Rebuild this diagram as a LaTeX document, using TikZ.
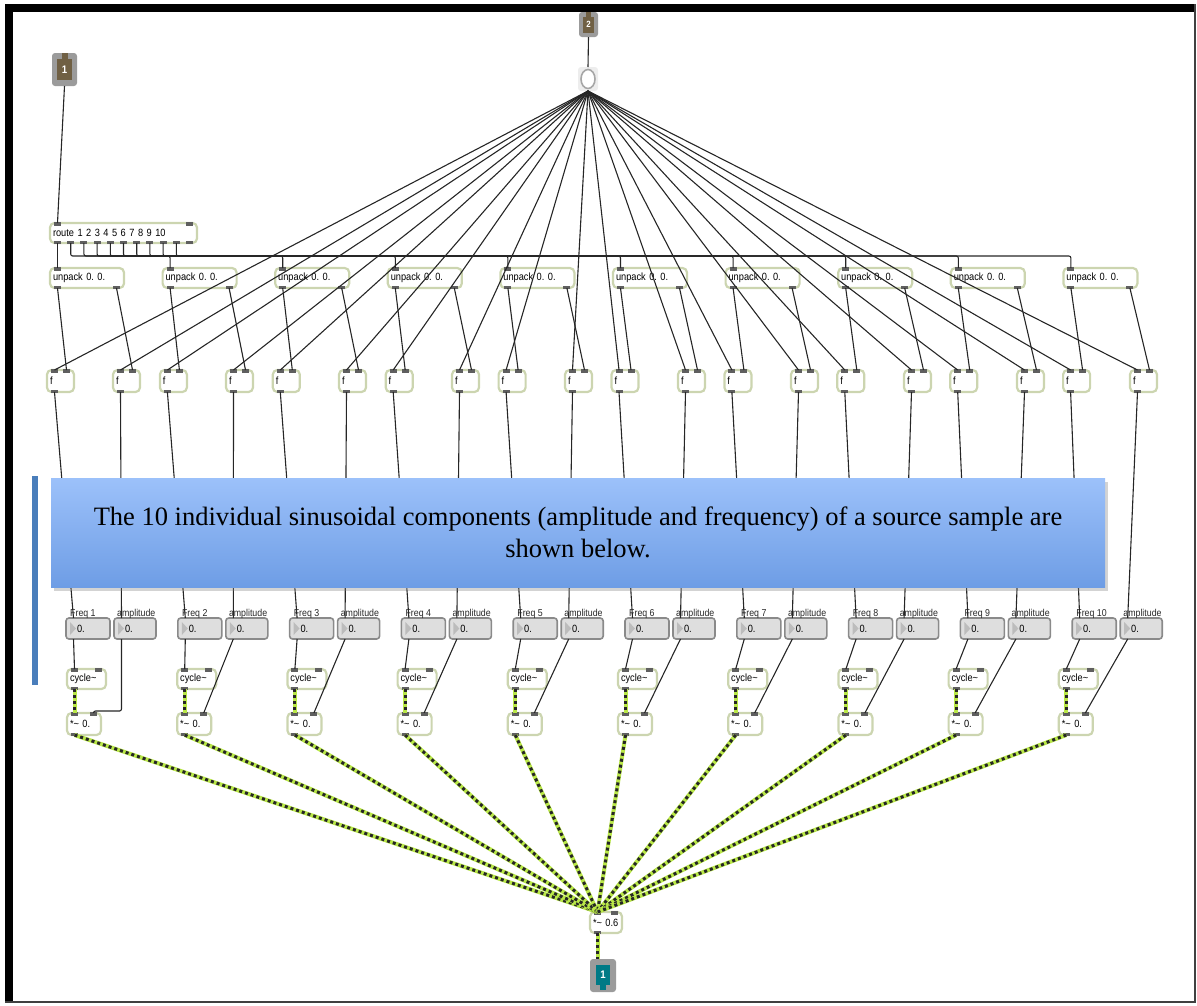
\documentclass[tikz,border=0pt]{standalone}
\usepackage{fontspec}
\newfontfamily\maxfont[FakeStretch=0.88]{Liberation Sans}
\newfontfamily\bannerfont{Liberation Serif}
\usetikzlibrary{calc}
\usetikzlibrary{shadows}

\definecolor{objgreen}{RGB}{204,213,176}
\definecolor{portgray}{RGB}{95,95,95}
\definecolor{numfill}{RGB}{222,222,222}
\definecolor{numline}{RGB}{138,138,138}
\definecolor{trigray}{RGB}{188,188,188}
\definecolor{iogray}{RGB}{155,155,155}
\definecolor{inbrown}{RGB}{112,96,68}
\definecolor{outteal}{RGB}{0,122,134}
\definecolor{siggreen}{RGB}{186,232,72}
\definecolor{bantop}{RGB}{156,193,250}
\definecolor{banbot}{RGB}{110,157,229}
\definecolor{barblue}{RGB}{74,126,187}
\definecolor{cordgray}{RGB}{38,38,38}

\tikzset{
  maxobj/.style={draw=objgreen, line width=2.2pt, fill=white, rounded corners=4.5pt,
    anchor=north west, inner xsep=3pt, inner ysep=0pt, outer sep=0pt,
    minimum height=20pt, align=left, font=\maxfont\fontsize{10.5}{11}\selectfont},
  numbox/.style={draw=numline, line width=1.6pt, fill=numfill, rounded corners=3pt,
    anchor=north west, inner xsep=3pt, inner ysep=0pt, outer sep=0pt,
    minimum height=21pt, align=left, font=\maxfont\fontsize{10.5}{11}\selectfont},
  numlabel/.style={anchor=base west, inner sep=0pt, text=black!85,
    font=\maxfont\fontsize{10}{11}\selectfont},
  iobox/.style={fill=iogray, rounded corners=3pt, anchor=north west, inner sep=0pt, outer sep=0pt},
  iocore/.style={inner sep=0pt, outer sep=0pt, text=white, font=\maxfont\bfseries\fontsize{11}{11}\selectfont},
  bangbox/.style={fill=black!7, rounded corners=3pt, anchor=north west, inner sep=0pt,
    outer sep=0pt, minimum width=20pt, minimum height=24pt},
  cord/.style={draw=cordgray, line width=1.1pt},
  sigcord/.style={draw=siggreen, line width=4pt,
    postaction={draw=black!85, line width=3pt, dash pattern=on 3pt off 3pt}},
  banner/.style={top color=bantop, bottom color=banbot, minimum width=1054pt,
    minimum height=109pt, inner sep=0pt, align=center,
    font=\bannerfont\fontsize{26.5}{32}\selectfont,
    drop shadow={shadow xshift=3pt, shadow yshift=-4pt, opacity=0.35}}
}

% inlets and outlets of a box: node, width, #inlets, #outlets
\newcommand\maxports[5][portgray]{%
  \foreach \k in {1,...,#4}{
    \path ([xshift={7.5+(\k-1)*(#3-15)/max(#4-1,1)}]#2.north west) coordinate (#2-i\k);
    \fill[#1] ([xshift=-3.5pt,yshift=1pt]#2-i\k) rectangle ++(7,3.5);
  }
  \foreach \k in {1,...,#5}{
    \path ([xshift={7.5+(\k-1)*(#3-15)/max(#5-1,1)}]#2.south west) coordinate (#2-o\k);
    \fill[#1] ([xshift=-3.5pt,yshift=-1pt]#2-o\k) rectangle ++(7,-3.5);
  }
}

\frenchspacing
\begin{document}
\begin{tikzpicture}[x=1pt,y=-1pt]
\useasboundingbox (0,0) rectangle (1197,1005);

%================ FRAME ==================
\fill[black] (5,4) rectangle (1196,12);
\fill[black] (5,4) rectangle (13,1003);
\fill[black!75] (1194,4) rectangle (1196,1003);
\fill[black!75] (5,1001) rectangle (1196,1003);

%================ INLETS / OUTLET ==================
\node[iobox, minimum width=25pt, minimum height=33pt] (in1) at (52,53) {};
\node[iocore, fill=inbrown, minimum width=15pt, minimum height=21pt] (in1core) at (in1.center) {1};
\fill[inbrown] ([xshift=-3pt]in1core.north) rectangle ([xshift=3pt]in1.north);

\node[iobox, minimum width=19pt, minimum height=25pt] (in2) at (579,12) {};
\node[iocore, fill=inbrown, minimum width=11pt, minimum height=16pt,
  font=\maxfont\bfseries\fontsize{9}{9}\selectfont] (in2core) at (in2.center) {2};
\fill[inbrown] ([xshift=-2.5pt]in2core.north) rectangle ([xshift=2.5pt]in2.north);

\node[bangbox] (bang) at (578,67) {};
\draw[draw=black!35, line width=1.6pt, fill=white] (bang.center) ellipse (7pt and 9.5pt);

\node[iobox, minimum width=26pt, minimum height=33pt] (out1) at (590,959) {};
\node[iocore, fill=outteal, minimum width=14pt, minimum height=20pt] (out1core) at ([yshift=1pt]out1.center) {1};
\fill[outteal] ([xshift=-3pt]out1core.south) rectangle ([xshift=3pt,yshift=2pt]out1.south);

%================ OBJECTS ==================
\node[maxobj, text width=141pt] (route) at (50,223) {route 1 2 3 4 5 6 7 8 9 10};
\maxports{route}{147}{2}{11}

\foreach \n in {1,...,10}{
  \pgfmathsetmacro\ux{50+112.6*(\n-1)}
  \pgfmathsetmacro\flx{47+112.9*(\n-1)}
  \pgfmathsetmacro\frx{113+113*(\n-1)}
  \pgfmathsetmacro\fqx{66+111.8*(\n-1)}
  \pgfmathsetmacro\ax{114+111.8*(\n-1)}
  \pgfmathsetmacro\cx{67+110.2*(\n-1)}

  \node[maxobj, text width=68pt] (u\n) at (\ux,268) {unpack 0. 0.};
  \maxports{u\n}{74}{1}{2}

  \node[maxobj, text width=21pt, minimum height=22pt] (fl\n) at (\flx,370) {f};
  \maxports{fl\n}{27}{2}{1}
  \node[maxobj, text width=21pt, minimum height=22pt] (fr\n) at (\frx,370) {f};
  \maxports{fr\n}{27}{2}{1}

  % number boxes
  \node[numbox, text width=38pt] (fq\n) at (\fqx,618) {\hspace*{8pt}0.};
  \maxports[opacity=0]{fq\n}{44}{1}{2}
  \fill[trigray] ([xshift=4pt,yshift=-4pt]fq\n.north west) -- ++(6,6.5) -- ++(-6,6.5) -- cycle;
  \node[numbox, text width=36pt] (a\n) at (\ax,618) {\hspace*{8pt}0.};
  \maxports[opacity=0]{a\n}{42}{1}{2}
  \fill[trigray] ([xshift=4pt,yshift=-4pt]a\n.north west) -- ++(6,6.5) -- ++(-6,6.5) -- cycle;
  \node[numlabel] (lf\n) at (\fqx+4,616) {Freq \n};
  \node[numlabel] (la\n) at (\ax+3,616) {amplitude};

  \node[maxobj, text width=33pt] (c\n) at (\cx,669) {cycle\textasciitilde};
  \maxports{c\n}{39}{2}{1}
  \node[maxobj, text width=28pt, minimum height=22pt] (m\n) at (\cx,713) {*\textasciitilde\ 0.};
  \maxports{m\n}{34}{2}{1}
}

\node[maxobj, text width=26pt, minimum height=21pt] (fin) at (590,912) {*\textasciitilde\ 0.6};
\maxports{fin}{32}{2}{1}

%================ CORDS ==================
\draw[cord] (in1.south) -- (route-i1);
\draw[cord] (in2.south) -- (bang.north);
\draw[cord] (route-o1) -- (u1-i1);
\foreach \n in {2,...,10}
  \draw[cord, rounded corners=2pt] (route-o\n) |- ([yshift=12pt]u\n-i1) -- (u\n-i1);

\foreach \n in {1,...,10}{
  \draw[cord] (bang.south) -- (fl\n-i1);
  \draw[cord] (bang.south) -- (fr\n-i1);
  \draw[cord] (u\n-o1) -- (fl\n-i2);
  \draw[cord] (u\n-o2) -- (fr\n-i2);
  \draw[cord] (fl\n-o1) -- (fq\n-i1);
  \draw[cord] (fr\n-o1) -- (a\n-i1);
  \draw[cord] (fq\n-o1) -- (c\n-i1);
  \draw[sigcord] (c\n-o1) -- (m\n-i1);
}
\draw[cord, rounded corners=2pt] (a1-o1) |- ([yshift=2pt]m1-i2) -- (m1-i2);
\foreach \n in {2,...,10}
  \draw[cord] (a\n-o1) -- (m\n-i2);

% signal cords into the final gain
\foreach \n in {1,...,10}
  \draw[sigcord] (m\n-o1) -- (fin-i1);
\draw[sigcord] (fin-o1) -- (fin-o1 |- out1.north);

%================ BANNER ==================
\fill[barblue] (32,476) rectangle (38,685);
\node[banner] (note) at (578,532.5) {The 10 individual sinusoidal components (amplitude and frequency) of a source sample are\\shown below.};

\end{tikzpicture}
\end{document}
